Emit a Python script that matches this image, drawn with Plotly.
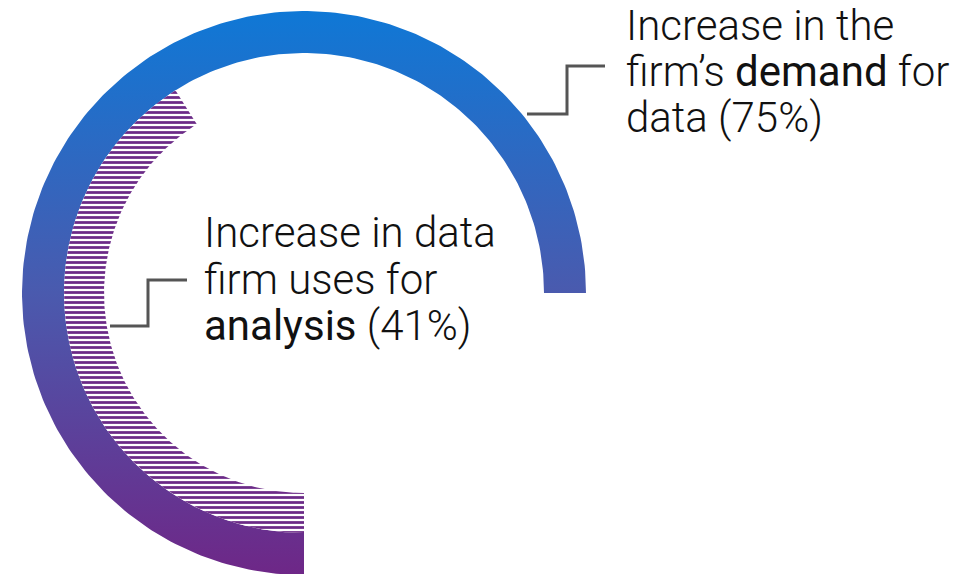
import numpy as np
import plotly.graph_objects as go

# Survey shares (fraction of firms)
labels = ["Increase in the firm’s demand for data", "Increase in data firm uses for analysis"]
shares = [0.75, 0.41]

# Ring geometry (pixel-like units, centre at origin)
OUTER_R = (240, 282)
INNER_R = (200, 240)
START_DEG = 180  # rings start at six o'clock and run clockwise


def arc_polygon(frac, r_in, r_out, n=240):
    theta = np.radians(np.linspace(START_DEG, START_DEG + 360 * frac, n))
    xo, yo = r_out * np.sin(theta), r_out * np.cos(theta)
    xi, yi = r_in * np.sin(theta[::-1]), r_in * np.cos(theta[::-1])
    x = np.concatenate([xo, xi, xo[:1]])
    y = np.concatenate([yo, yi, yo[:1]])
    return x, y


fig = go.Figure()

# outer ring: firm's demand for data, blue-to-purple vertical gradient
xo, yo = arc_polygon(shares[0], *OUTER_R)
fig.add_trace(go.Scatter(
    x=xo, y=yo, mode="lines", fill="toself",
    line=dict(width=0, color="rgba(0,0,0,0)"),
    fillgradient=dict(type="vertical", start=-OUTER_R[1], stop=OUTER_R[1],
                      colorscale=[[0, "#6e2787"], [0.5, "#4a5aae"], [1, "#0f78d6"]]),
    hoverinfo="skip", showlegend=False, name=labels[0],
))

# inner ring: data used for analysis, horizontal hatching
xi, yi = arc_polygon(shares[1], *INNER_R)
fig.add_trace(go.Scatter(
    x=xi, y=yi, mode="lines", fill="toself",
    line=dict(width=0, color="rgba(0,0,0,0)"),
    fillcolor="white",
    fillpattern=dict(shape="-", fgcolor="#6b2a87", bgcolor="white", fgopacity=1,
                     size=5, solidity=0.55),
    hoverinfo="skip", showlegend=False, name=labels[1],
))

# leader lines from each ring to its label
leaders = [
    dict(x=[223, 263, 263, 301], y=[179, 179, 227, 227]),
    dict(x=[-194, -156, -156, -117], y=[-33, -33, 13, 13]),
]
for ld in leaders:
    fig.add_trace(go.Scatter(
        x=ld["x"], y=ld["y"], mode="lines",
        line=dict(color="#555555", width=3), hoverinfo="skip", showlegend=False,
    ))

BOLD = '<span style="font-weight:400">{}</span>'
label_lines = [
    (320, [268, 222, 176], ["Increase in the", "firm’s " + BOLD.format("demand") + " for", "data (75%)"]),
    (-102, [61, 14, -32], ["Increase in data", "firm uses for", BOLD.format("analysis") + " (41%)"]),
]
for x0, ys, lines in label_lines:
    for yv, txt in zip(ys, lines):
        fig.add_annotation(
            x=x0, y=yv, text=txt, showarrow=False, xanchor="left", yanchor="middle",
            font=dict(family="Roboto", size=42, color="#111111", weight=300),
        )

fig.update_xaxes(range=[-304, 671], visible=False, fixedrange=True)
fig.update_yaxes(range=[-281, 293], visible=False, fixedrange=True)
fig.update_layout(
    width=975, height=574, margin=dict(l=0, r=0, t=0, b=0),
    paper_bgcolor="white", plot_bgcolor="white",
)

fig.write_html("out.html")
